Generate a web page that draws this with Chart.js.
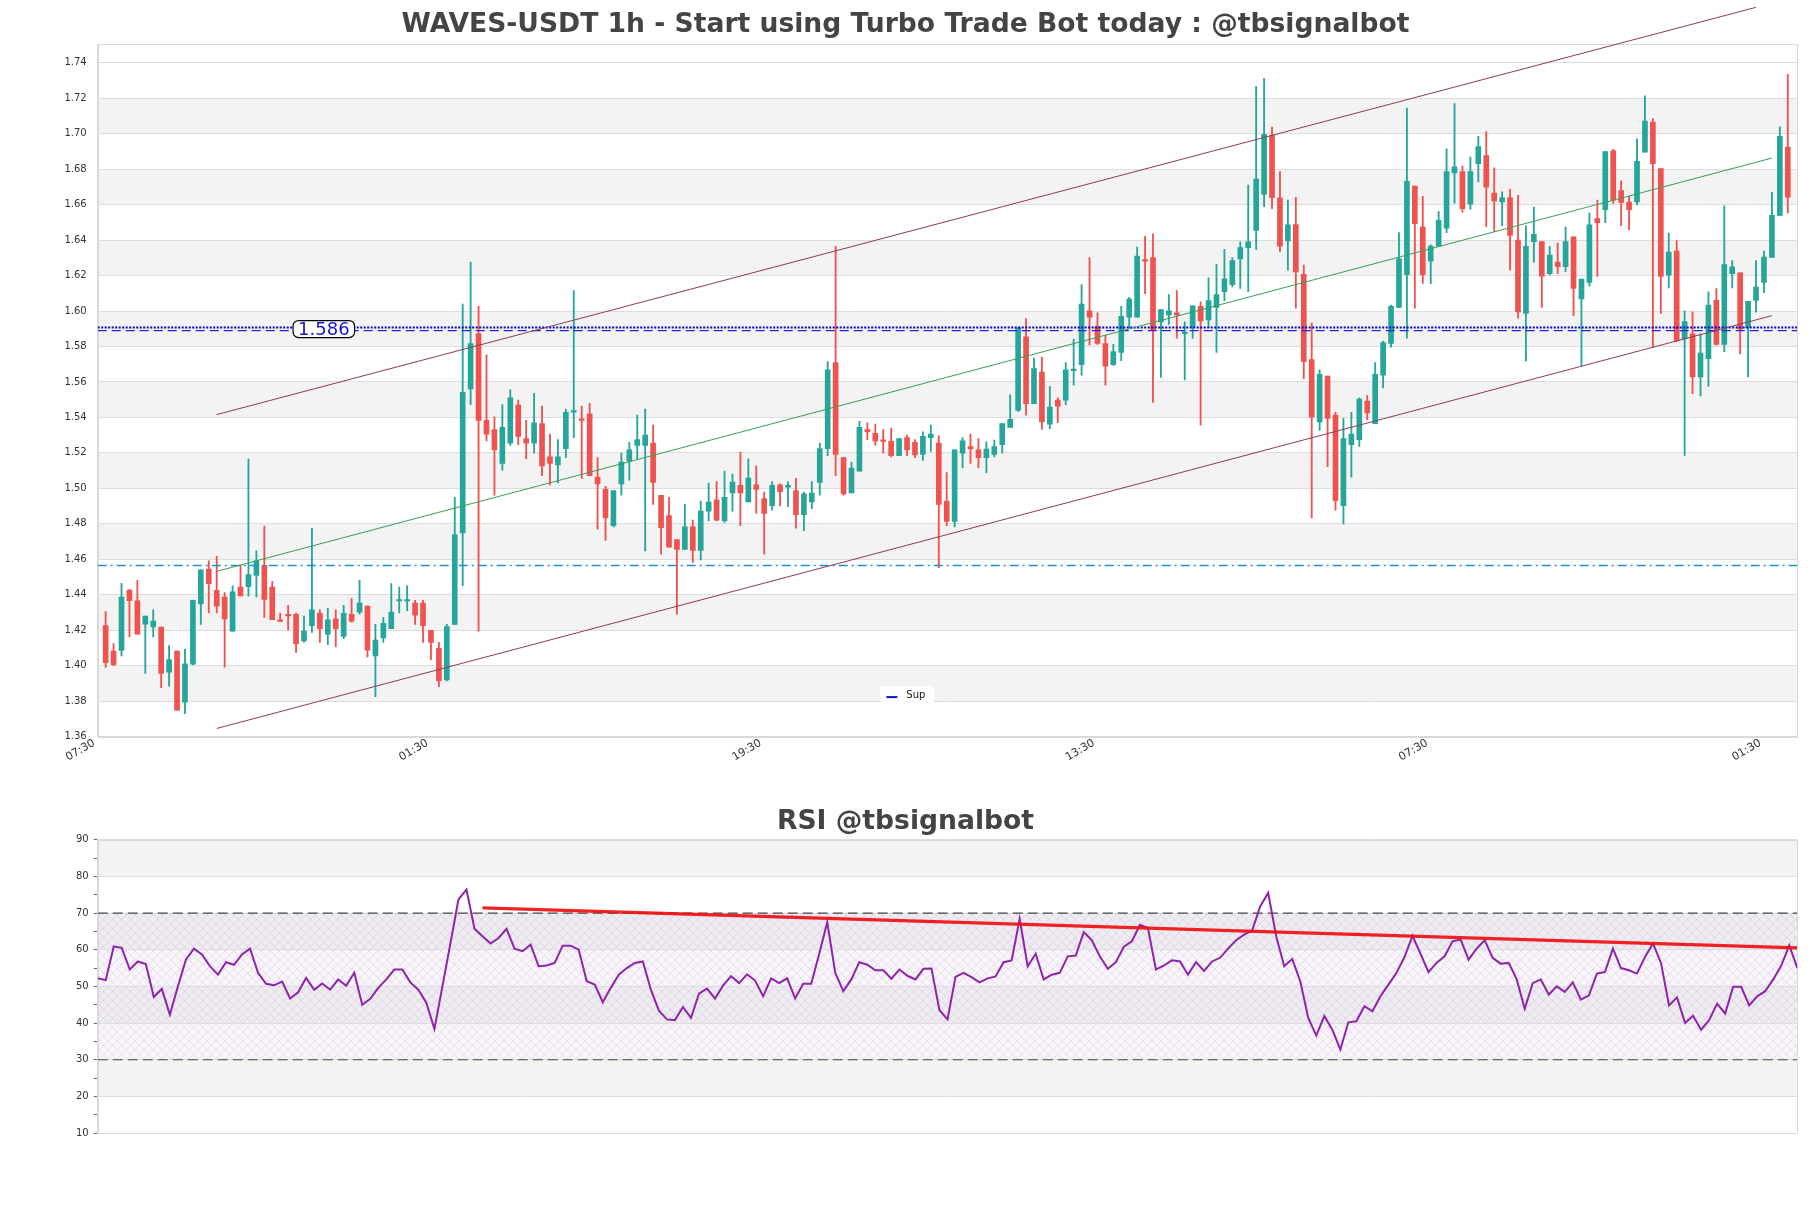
<!DOCTYPE html>
<html>
<head>
<meta charset="utf-8">
<script src="https://cdn.jsdelivr.net/npm/chart.js@4.4.1/dist/chart.umd.min.js"></script>
<style>
html,body{margin:0;padding:0;background:#fff;}
#wrap{position:relative;width:1811px;height:1208px;background:#fff;overflow:hidden;}
.box{position:absolute;left:0;width:1811px;}
</style>
</head>
<body>
<div id="wrap">
  <div class="box" style="top:0;height:780px"><canvas id="mainChart" width="1811" height="780"></canvas></div>
  <div class="box" style="top:780px;height:428px"><canvas id="rsiChart" width="1811" height="428"></canvas></div>
</div>
<script>
// ---------------- DATA ----------------
const titleMain = 'WAVES-USDT 1h - Start using Turbo Trade Bot today : @tbsignalbot';
const titleRsi = 'RSI @tbsignalbot';
const xTickLabels = ['07:30','01:30','19:30','13:30','07:30','01:30'];
const xTickEveryHours = 42;
const firstCandleHour = 1;
const lastHourOnAxis = 214.2;
const priceTicks = [1.36,1.38,1.40,1.42,1.44,1.46,1.48,1.50,1.52,1.54,1.56,1.58,1.60,1.62,1.64,1.66,1.68,1.70,1.72,1.74];
const priceMin = 1.36, priceMax = 1.7506;
const rsiTicks = [10,15,20,25,30,35,40,45,50,55,60,65,70,75,80,85,90];

const candleOpen = [
1.4226,1.4082,1.4086,1.4425,1.4366,1.4234,1.4218,1.4218,1.3963,1.4082,
1.3794,1.4009,1.4348,1.4545,1.4425,1.4387,1.4195,1.4443,1.4445,1.4509,
1.4566,1.4443,1.4259,1.4290,1.4290,1.4139,1.4226,1.4297,1.4177,1.4264,
1.4165,1.4290,1.4302,1.4336,1.4055,1.4157,1.4208,1.4365,1.4365,1.4353,
1.4353,1.4200,1.4098,1.3919,1.4233,1.4749,1.5561,1.5873,1.5383,1.5332,
1.5140,1.5255,1.5469,1.5281,1.5255,1.5365,1.5178,1.5132,1.5224,1.5430,
1.5388,1.5421,1.5063,1.4994,1.4790,1.5025,1.5153,1.5242,1.5242,1.5255,
1.4961,1.4846,1.4711,1.4655,1.4783,1.4650,1.4872,1.4936,1.4816,1.4974,
1.5017,1.4923,1.5020,1.4943,1.4903,1.5020,1.5007,1.4987,1.4852,1.4923,
1.5033,1.5224,1.5710,1.5173,1.4974,1.5097,1.5332,1.5311,1.5273,1.5265,
1.5184,1.5286,1.5260,1.5191,1.5286,1.5255,1.4928,1.4813,1.5199,1.5235,
1.5217,1.5173,1.5191,1.5247,1.5344,1.5439,1.5855,1.5477,1.5656,1.5362,
1.5498,1.5498,1.5664,1.5697,1.6001,1.5914,1.5817,1.5697,1.5766,1.5965,
1.5965,1.6289,1.6302,1.5939,1.5978,1.5990,1.5873,1.5911,1.6026,1.5950,
1.6021,1.6110,1.6149,1.6294,1.6358,1.6455,1.6659,1.6991,1.6639,1.6396,
1.6488,1.6207,1.5727,1.5375,1.5633,1.5413,1.4903,1.5247,1.5275,1.5492,
1.5365,1.5638,1.5817,1.6021,1.6205,1.6705,1.6473,1.6282,1.6366,1.6468,
1.6779,1.6787,1.6603,1.6831,1.6877,1.6665,1.6616,1.6640,1.6400,1.5987,
1.6392,1.6392,1.6211,1.6276,1.6251,1.6419,1.6068,1.6162,1.6521,1.6572,
1.6904,1.6680,1.6615,1.6615,1.6896,1.7066,1.6804,1.6203,1.6338,1.5844,
1.5871,1.5629,1.5731,1.6060,1.5812,1.6211,1.6216,1.5906,1.6060,1.6162,
1.6303,1.6540,1.6925];

const candleHigh = [
1.4305,1.4125,1.4464,1.4430,1.4481,1.4280,1.4315,1.4218,1.4113,1.4082,
1.4093,1.4370,1.4540,1.4591,1.4617,1.4412,1.4450,1.4566,1.5166,1.4647,
1.4787,1.4476,1.4297,1.4340,1.4297,1.4280,1.4775,1.4315,1.4323,1.4315,
1.4340,1.4379,1.4481,1.4336,1.4233,1.4272,1.4463,1.4443,1.4451,1.4369,
1.4369,1.4200,1.4131,1.4233,1.4949,1.6039,1.6276,1.6026,1.5753,1.5403,
1.5472,1.5556,1.5498,1.5383,1.5536,1.5464,1.5306,1.5275,1.5447,1.6116,
1.5464,1.5480,1.5173,1.5012,1.4987,1.5199,1.5260,1.5413,1.5447,1.5357,
1.4961,1.4949,1.4711,1.4910,1.4821,1.4928,1.5030,1.5038,1.5097,1.5081,
1.5204,1.5166,1.5127,1.4979,1.5038,1.5025,1.5038,1.5056,1.4979,1.5038,
1.5255,1.5715,1.6366,1.5173,1.5148,1.5378,1.5370,1.5362,1.5332,1.5339,
1.5281,1.5301,1.5275,1.5319,1.5357,1.5298,1.5089,1.5217,1.5286,1.5306,
1.5281,1.5263,1.5273,1.5365,1.5528,1.5906,1.5957,1.5735,1.5740,1.5574,
1.5510,1.5710,1.5842,1.6149,1.6302,1.5990,1.5863,1.5812,1.6026,1.6077,
1.6361,1.6422,1.6435,1.6008,1.6093,1.6116,1.5939,1.6029,1.6052,1.6187,
1.6264,1.6348,1.6302,1.6391,1.6711,1.7267,1.7311,1.7037,1.6787,1.6626,
1.6642,1.6259,1.5932,1.5669,1.5633,1.5429,1.5395,1.5429,1.5510,1.5523,
1.5710,1.5830,1.6034,1.6442,1.7145,1.6705,1.6647,1.6373,1.6562,1.6915,
1.7170,1.6818,1.6869,1.6986,1.7012,1.6808,1.6672,1.6688,1.6653,1.6481,
1.6586,1.6392,1.6365,1.6384,1.6473,1.6419,1.6181,1.6553,1.6626,1.6899,
1.6912,1.6734,1.6648,1.6971,1.7214,1.7085,1.6804,1.6440,1.6397,1.6001,
1.5995,1.5871,1.6109,1.6127,1.6594,1.6284,1.6216,1.6055,1.6284,1.6338,
1.6669,1.7039,1.7335];

const candleLow = [
1.3990,1.4000,1.4055,1.4162,1.4177,1.3957,1.4162,1.3876,1.3884,1.3749,
1.3730,1.4004,1.4233,1.4297,1.4297,1.3991,1.4195,1.4394,1.4392,1.4387,
1.4272,1.4259,1.4249,1.4201,1.4075,1.4131,1.4188,1.4131,1.4118,1.4106,
1.4152,1.4246,1.4290,1.4050,1.3825,1.4131,1.4208,1.4297,1.4310,1.4233,
1.4131,1.4034,1.3881,1.3914,1.4233,1.4451,1.5472,1.4195,1.5268,1.4961,
1.5102,1.5242,1.5247,1.5166,1.5199,1.5071,1.5020,1.5030,1.5173,1.5286,
1.5056,1.5071,1.4770,1.4706,1.4783,1.4961,1.5046,1.5166,1.4647,1.4910,
1.4629,1.4668,1.4290,1.4655,1.4583,1.4596,1.4816,1.4816,1.4808,1.4872,
1.4790,1.4923,1.4859,1.4629,1.4877,1.4903,1.4897,1.4775,1.4762,1.4885,
1.4961,1.5184,1.5071,1.4961,1.4974,1.5097,1.5275,1.5242,1.5199,1.5178,
1.5184,1.5184,1.5173,1.5158,1.5209,1.4553,1.4790,1.4783,1.5115,1.5140,
1.5115,1.5089,1.5178,1.5199,1.5344,1.5434,1.5413,1.5477,1.5332,1.5337,
1.5370,1.5472,1.5582,1.5638,1.5809,1.5812,1.5582,1.5694,1.5720,1.5906,
1.5965,1.6098,1.5485,1.5625,1.5924,1.5847,1.5612,1.5847,1.5357,1.5906,
1.5766,1.6059,1.6136,1.6128,1.6110,1.6348,1.6588,1.6578,1.6333,1.6230,
1.6016,1.5618,1.4834,1.5327,1.5122,1.4877,1.4800,1.5063,1.5237,1.5388,
1.5365,1.5567,1.5796,1.6021,1.5847,1.6016,1.6156,1.6154,1.6366,1.6442,
1.6608,1.6557,1.6575,1.6728,1.6476,1.6448,1.6481,1.6230,1.5960,1.5718,
1.6276,1.6020,1.6203,1.6211,1.6222,1.5974,1.5691,1.6141,1.6195,1.6499,
1.6607,1.6481,1.6459,1.6599,1.6896,1.5798,1.5987,1.6130,1.5831,1.5186,
1.5534,1.5521,1.5575,1.5807,1.5771,1.6130,1.5758,1.5629,1.5993,1.6103,
1.6303,1.6540,1.6553];

const candleClose = [
1.4017,1.4005,1.4387,1.4366,1.4177,1.4280,1.4251,1.3957,1.4034,1.3749,
1.4011,1.4369,1.4540,1.4463,1.4336,1.4264,1.4417,1.4394,1.4514,1.4591,
1.4374,1.4259,1.4249,1.4280,1.4124,1.4195,1.4315,1.4208,1.4259,1.4208,
1.4295,1.4251,1.4353,1.4088,1.4144,1.4239,1.4302,1.4369,1.4372,1.4285,
1.4226,1.4131,1.3914,1.4221,1.4739,1.5541,1.5817,1.5383,1.5306,1.5217,
1.5344,1.5510,1.5293,1.5255,1.5370,1.5127,1.5140,1.5178,1.5429,1.5436,
1.5383,1.5071,1.5025,1.4834,1.4987,1.5148,1.5217,1.5275,1.5301,1.5033,
1.4778,1.4668,1.4655,1.4783,1.4650,1.4872,1.4923,1.4821,1.4949,1.5035,
1.4974,1.5058,1.4994,1.4859,1.5017,1.4982,1.5017,1.4852,1.4969,1.4974,
1.5224,1.5669,1.5191,1.4969,1.5115,1.5344,1.5319,1.5268,1.5265,1.5184,
1.5281,1.5217,1.5189,1.5293,1.5306,1.4910,1.4813,1.5217,1.5268,1.5222,
1.5173,1.5222,1.5235,1.5365,1.5390,1.5906,1.5477,1.5676,1.5375,1.5459,
1.5464,1.5669,1.5669,1.6039,1.5965,1.5817,1.5689,1.5771,1.5970,1.6067,
1.6310,1.6282,1.5893,1.6008,1.6001,1.5978,1.5881,1.6029,1.5944,1.6059,
1.6093,1.6182,1.6284,1.6358,1.6391,1.6744,1.6997,1.6639,1.6366,1.6486,
1.6220,1.5715,1.5401,1.5643,1.5395,1.4931,1.5281,1.5306,1.5503,1.5426,
1.5643,1.5822,1.6026,1.6294,1.6731,1.6493,1.6205,1.6366,1.6511,1.6787,
1.6813,1.6578,1.6787,1.6928,1.6698,1.6621,1.6639,1.6427,1.5995,1.6365,
1.6432,1.6197,1.6316,1.6251,1.6392,1.6127,1.6181,1.6486,1.6499,1.6899,
1.6626,1.6613,1.6572,1.6845,1.7071,1.6831,1.6195,1.6332,1.5831,1.5941,
1.5629,1.5763,1.6033,1.5812,1.6262,1.6249,1.5898,1.6055,1.6135,1.6305,
1.6540,1.6985,1.6642];

const rsiValues = [
52.2,51.7,60.9,60.5,54.6,56.8,56.1,47.1,49.3,42.3,
50.0,57.3,60.3,58.7,55.5,53.2,56.6,55.9,58.7,60.3,
53.7,50.7,50.3,51.3,46.7,48.4,52.3,49.1,50.8,49.1,
51.9,50.2,53.7,45.0,46.6,49.6,51.9,54.6,54.6,51.1,
49.1,45.5,38.4,50.0,61.8,73.7,76.4,65.7,63.7,61.7,
63.2,65.7,60.3,59.6,61.4,55.5,55.7,56.4,61.1,61.1,
60.0,51.4,50.5,45.7,49.6,53.2,55.0,56.4,56.8,49.1,
43.4,41.0,40.8,44.4,41.4,48.0,49.4,46.7,50.2,52.8,
50.9,53.3,51.6,47.3,52.2,50.9,52.2,46.7,50.7,50.7,
58.9,67.5,53.7,48.7,51.9,56.6,55.9,54.4,54.4,52.1,
54.6,52.9,51.9,54.8,54.9,43.5,41.0,52.6,53.7,52.5,
51.1,52.2,52.7,56.6,57.1,68.4,55.5,58.9,51.9,53.2,
53.7,58.2,58.4,64.8,62.6,58.2,54.8,56.6,60.8,62.3,
66.8,65.9,54.6,55.7,57.1,56.8,53.2,56.6,54.2,56.8,
57.8,60.3,62.6,64.1,65.2,71.8,75.5,63.7,55.5,57.5,
51.4,41.4,36.6,41.9,38.2,32.8,40.2,40.5,44.6,43.2,
47.3,50.5,53.7,58.0,63.8,58.9,53.9,56.4,58.2,62.3,
62.8,57.3,60.3,62.6,57.8,56.2,56.4,51.9,43.9,50.9,
51.9,47.8,50.0,48.5,51.1,46.4,47.5,53.5,53.9,60.3,
55.0,54.4,53.5,58.0,61.7,56.4,44.8,47.0,40.0,42.0,
38.2,40.8,45.3,42.6,49.9,49.9,44.8,47.3,48.7,51.9,
55.7,61.2,55.0];

// trend lines: [hourIndex, price]
const channelUpper = [[15, 1.5416], [209, 1.7713]];
const channelMiddle = [[15, 1.4532], [211, 1.6863]];
const channelLower = [[15, 1.3646], [211, 1.5974]];
const supDotted = 1.5907;
const supDashed = 1.5890;
const supLabel = '1.586';
const supLabelHour = 28.5;
const lowerLevel = 1.4565;
const rsiTrend = [[48, 71.4], [212, 60.5]];
const rsiUpper = 70, rsiLower = 30;
const priceBands = [[1.38,1.40],[1.42,1.44],[1.46,1.48],[1.50,1.52],[1.54,1.56],[1.58,1.60],[1.62,1.64],[1.66,1.68],[1.70,1.72]];
const rsiBands = [[20,30],[40,50],[60,70],[80,90]];

// ---------------- STYLE ----------------
const FONT = 'DejaVu Sans';
const UP = '#26a69a', DOWN = '#ef5350';
const SIDE = 13.7;            // equal outer margin left/right so titles centre on the page
const AXIS_W = 97.7 - SIDE;   // y-axis box width
const candleColors = candleOpen.map((o,i)=> candleClose[i] >= o ? UP : DOWN);
const pts = arr => arr.map(p => ({x:p[0], y:p[1]}));
const hline = (y, x0, x1) => [{x:x0, y:y}, {x:x1, y:y}];

function roundRectPath(ctx, x, y, w, h, r){
  ctx.beginPath();
  ctx.moveTo(x+r, y);
  ctx.lineTo(x+w-r, y); ctx.quadraticCurveTo(x+w, y, x+w, y+r);
  ctx.lineTo(x+w, y+h-r); ctx.quadraticCurveTo(x+w, y+h, x+w-r, y+h);
  ctx.lineTo(x+r, y+h); ctx.quadraticCurveTo(x, y+h, x, y+h-r);
  ctx.lineTo(x, y+r); ctx.quadraticCurveTo(x, y, x+r, y);
  ctx.closePath();
}

function makeHatch(){
  const c = document.createElement('canvas');
  c.width = 9; c.height = 9;
  const g = c.getContext('2d');
  g.fillStyle = 'rgba(225,215,235,0.25)';
  g.fillRect(0,0,9,9);
  g.strokeStyle = 'rgba(170,140,190,0.35)';
  g.lineWidth = 0.6;
  g.beginPath();
  g.moveTo(0,0); g.lineTo(9,9);
  g.moveTo(9,0); g.lineTo(0,9);
  g.stroke();
  return c;
}

const bandsPlugin = {
  id: 'bands',
  beforeDraw(chart, args, opts){
    const {ctx, chartArea: a, scales: {y}} = chart;
    ctx.save();
    ctx.fillStyle = '#ffffff';
    ctx.fillRect(a.left, a.top, a.width, a.height);
    ctx.fillStyle = '#f3f3f3';
    for (const [lo, hi] of opts.bands){
      const y1 = y.getPixelForValue(hi), y2 = y.getPixelForValue(lo);
      ctx.fillRect(a.left, y1, a.width, y2 - y1);
    }
    if (opts.hatch){
      const pat = ctx.createPattern(makeHatch(), 'repeat');
      ctx.fillStyle = pat;
      const y1 = y.getPixelForValue(opts.hatch[1]), y2 = y.getPixelForValue(opts.hatch[0]);
      ctx.fillRect(a.left, y1, a.width, y2 - y1);
    }
    ctx.restore();
  },
  beforeDatasetsDraw(chart){
    const {ctx, chartArea: a} = chart;
    ctx.save();
    ctx.strokeStyle = '#d9d9d9';
    ctx.lineWidth = 1;
    ctx.strokeRect(Math.round(a.left)+0.5, Math.round(a.top)+0.5, Math.round(a.width)-1, Math.round(a.height));
    ctx.restore();
  }
};

const annotPlugin = {
  id: 'annot',
  afterDatasetsDraw(chart){
    const {ctx, chartArea: a, scales: {x, y}} = chart;
    ctx.save();
    // price label
    const px = x.getPixelForValue(supLabelHour);
    const py = y.getPixelForValue((supDotted + supDashed) / 2);
    ctx.font = '18px "' + FONT + '"';
    const w = ctx.measureText(supLabel).width;
    roundRectPath(ctx, px - w/2 - 5, py - 8.5, w + 10, 17, 6);
    ctx.fillStyle = '#ffffff'; ctx.fill();
    ctx.strokeStyle = '#000000'; ctx.lineWidth = 1.2; ctx.stroke();
    ctx.fillStyle = '#1515d0';
    ctx.textAlign = 'center'; ctx.textBaseline = 'middle';
    ctx.fillText(supLabel, px, py + 1);
    // legend
    const lx = a.left + a.width * 0.4605, ly = a.bottom - 50.5;
    ctx.fillStyle = 'rgba(255,255,255,0.9)';
    roundRectPath(ctx, lx, ly, 54, 17.5, 3);
    ctx.fill();
    ctx.strokeStyle = '#1010c0'; ctx.lineWidth = 2;
    ctx.beginPath(); ctx.moveTo(lx + 6, ly + 11); ctx.lineTo(lx + 17, ly + 11); ctx.stroke();
    ctx.fillStyle = '#111';
    ctx.font = '10px "' + FONT + '"';
    ctx.textAlign = 'left'; ctx.textBaseline = 'middle';
    ctx.fillText('Sup', lx + 26, ly + 9);
    ctx.restore();
  }
};

Chart.defaults.font.family = FONT;
Chart.defaults.animation = false;

// ---------------- MAIN CHART ----------------
new Chart(document.getElementById('mainChart'), {
  type: 'bar',
  data: {
    datasets: [
      { type:'line', label:'upper', data: pts(channelUpper), borderColor:'#8c3c55', borderWidth:1, pointRadius:0, clip:false, order:0 },
      { type:'line', label:'middle', data: pts(channelMiddle), borderColor:'#35a055', borderWidth:1, pointRadius:0, order:0 },
      { type:'line', label:'lower', data: pts(channelLower), borderColor:'#8c3c55', borderWidth:1, pointRadius:0, order:0 },
      { type:'line', label:'Sup', data: hline(supDotted, 0, lastHourOnAxis), borderColor:'#0000dd', borderWidth:2, borderDash:[2,1.5], pointRadius:0, order:1 },
      { type:'line', label:'supDash', data: hline(supDashed, 0, lastHourOnAxis), borderColor:'#2525cc', borderWidth:1.3, borderDash:[9,5], pointRadius:0, order:1 },
      { type:'line', label:'low', data: hline(lowerLevel, 0, lastHourOnAxis), borderColor:'#1a93c8', borderWidth:1.3, borderDash:[9,4,2,4], pointRadius:0, order:1 },
      { type:'bar', label:'body', data: candleOpen.map((o,i)=>({x: firstCandleHour + i, y:[o, candleClose[i]]})),
        backgroundColor: candleColors, borderWidth:0, barThickness:5, minBarLength:1.5, grouped:false, order:2 },
      { type:'bar', label:'wick', data: candleLow.map((l,i)=>({x: firstCandleHour + i, y:[l, candleHigh[i]]})),
        backgroundColor: candleColors, borderWidth:0, barThickness:1.2, grouped:false, order:3 }
    ]
  },
  options: {
    responsive:false,
    animation:false,
    layout:{ padding:{ left:SIDE, right:SIDE, top:0, bottom:0 } },
    plugins:{
      legend:{ display:false },
      tooltip:{ enabled:false },
      title:{ display:true, text:titleMain, color:'#444444',
        font:{ family:FONT, size:26.6, weight:'bold', lineHeight:1.2 }, padding:{ top:9.4, bottom:2.7 } },
      bands:{ bands: priceBands }
    },
    scales:{
      x:{ type:'linear', min:0, max:lastHourOnAxis, offset:false,
        grid:{ display:false, offset:false, drawTicks:false, tickLength:0 },
        border:{ color:'#d9d9d9' },
        afterBuildTicks: s => { s.ticks = xTickLabels.map((l,j)=>({ value: j * xTickEveryHours })); },
        ticks:{ autoSkip:false, maxRotation:30, minRotation:30, padding:0, labelOffset:-3.5, color:'#333', font:{ size:11 },
          callback: v => xTickLabels[Math.round(v / xTickEveryHours)] },
        afterFit: s => { s.height = 43.4; }
      },
      y:{ min:priceMin, max:priceMax,
        afterBuildTicks: s => { s.ticks = priceTicks.map(v => ({ value:v })); },
        grid:{ color:'#dddddd', lineWidth:1, tickLength:4, tickColor:'rgba(0,0,0,0)' },
        border:{ color:'#d9d9d9' },
        ticks:{ padding:7, color:'#333', font:{ size:10 }, callback: v => Number(v).toFixed(2) },
        afterFit: s => { s.width = AXIS_W; }
      }
    }
  },
  plugins:[bandsPlugin, annotPlugin]
});

// ---------------- RSI CHART ----------------
new Chart(document.getElementById('rsiChart'), {
  type: 'line',
  data: {
    datasets: [
      { label:'trend', data: pts(rsiTrend), borderColor:'rgba(238,16,16,0.92)', borderWidth:3.2, pointRadius:0, order:0 },
      { label:'RSI', data: rsiValues.map((v,k)=>({x:k, y:v})), borderColor:'#8e24aa', borderWidth:2, pointRadius:0, tension:0, order:1 },
      { label:'ob', data: hline(rsiUpper, 0, rsiValues.length - 1), borderColor:'#444', borderWidth:1.2, borderDash:[10,5], pointRadius:0, order:2 },
      { label:'os', data: hline(rsiLower, 0, rsiValues.length - 1), borderColor:'#444', borderWidth:1.2, borderDash:[10,5], pointRadius:0, order:2 }
    ]
  },
  options: {
    responsive:false,
    animation:false,
    layout:{ padding:{ left:SIDE, right:SIDE, top:0, bottom:74.9 } },
    plugins:{
      legend:{ display:false },
      tooltip:{ enabled:false },
      title:{ display:true, text:titleRsi, color:'#444444',
        font:{ family:FONT, size:26.6, weight:'bold', lineHeight:1.2 }, padding:{ top:26.4, bottom:1.38 } },
      bands:{ bands: rsiBands, hatch:[rsiLower, rsiUpper] }
    },
    scales:{
      x:{ type:'linear', min:0, max:rsiValues.length - 1, display:false },
      y:{ min:10, max:90,
        afterBuildTicks: s => { s.ticks = rsiTicks.map(v => ({ value:v })); },
        grid:{ color: c => (c.tick && c.tick.value % 10 === 0) ? '#dddddd' : 'rgba(0,0,0,0)', tickLength:4, tickColor:'#666' },
        border:{ color:'#d9d9d9' },
        ticks:{ padding:5, color:'#333', font:{ size:10 }, callback: v => (v % 10 === 0 ? String(v) : '') },
        afterFit: s => { s.width = AXIS_W; }
      }
    }
  },
  plugins:[bandsPlugin]
});
</script>
</body>
</html>
